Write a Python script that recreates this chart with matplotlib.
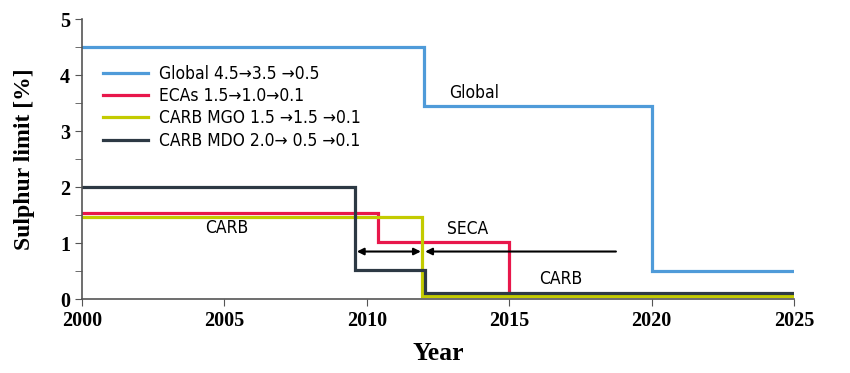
import matplotlib
matplotlib.use("Agg")
import matplotlib.pyplot as plt
from matplotlib.lines import Line2D

# Step series: (years of change, level after each change)
globalYears = [2000, 2012, 2020, 2025]
globalLimits = [4.5, 3.45, 0.5, 0.5]

ecaYears = [2000, 2010.4, 2015, 2025]
ecaLimits = [1.53, 1.02, 0.1, 0.1]

mgoYears = [2000, 2011.95, 2025]
mgoLimits = [1.47, 0.06, 0.06]

mdoYears = [2000, 2009.6, 2012.05, 2025]
mdoLimits = [2.0, 0.52, 0.11, 0.11]

seriesNames = ["Global 4.5\u21923.5 \u21920.5", "ECAs 1.5\u21921.0\u21920.1",
               "CARB MGO 1.5 \u21921.5 \u21920.1", "CARB MDO 2.0\u2192 0.5 \u21920.1"]
seriesColors = ["#4f9bd9", "#e8174b", "#c3cb00", "#2d3944"]

xTicks = [2000, 2005, 2010, 2015, 2020, 2025]
yTicks = [0, 1, 2, 3, 4, 5]

################################################################################

narrow = dict(family="DejaVu Sans", stretch="condensed")
serif = "Liberation Serif"

fig = plt.figure(figsize=(8.5, 3.73), dpi=100)
ax = fig.add_axes([0.0965, 0.198, 0.8375, 0.751])

allSeries = [(globalYears, globalLimits), (ecaYears, ecaLimits),
             (mgoYears, mgoLimits), (mdoYears, mdoLimits)]
for (yrs, lims), col in zip(allSeries, seriesColors):
	ax.step(yrs, lims, where="post", color=col, linewidth=2.3, solid_joinstyle="miter")

# Regulation period arrows
ax.annotate("", xy=(2009.65, 0.85), xytext=(2011.9, 0.85),
            arrowprops=dict(arrowstyle="<|-|>", color="black", lw=1.5, mutation_scale=10, shrinkA=0, shrinkB=0))
ax.annotate("", xy=(2012.05, 0.85), xytext=(2018.75, 0.85),
            arrowprops=dict(arrowstyle="-|>", color="black", lw=1.5, mutation_scale=10, shrinkA=0, shrinkB=0))

ax.text(2012.9, 3.68, "Global", fontsize=12.5, va="center", ha="left", **narrow)
ax.text(2005.1, 1.27, "CARB", fontsize=12.5, va="center", ha="center", **narrow)
ax.text(2013.55, 1.25, "SECA", fontsize=12.5, va="center", ha="center", **narrow)
ax.text(2016.8, 0.36, "CARB", fontsize=12.5, va="center", ha="center", **narrow)

ax.set_xlim(2000, 2025)
ax.set_ylim(0, 5)
ax.set_xticks(xTicks)
ax.set_yticks(yTicks)
ax.set_yticks([0.5, 1.5, 2.5, 3.5, 4.5], minor=True)
ax.tick_params(axis="y", which="both", length=5, direction="out", color="#555555")
ax.tick_params(axis="x", length=5, direction="out", color="#555555")
for lbl in ax.get_xticklabels() + ax.get_yticklabels():
	lbl.set_family(serif)
	lbl.set_fontweight("bold")
	lbl.set_fontsize(14.5)

for side in ["top", "right"]:
	ax.spines[side].set_visible(False)
for side in ["left", "bottom"]:
	ax.spines[side].set_color("#555555")
	ax.spines[side].set_linewidth(1.2)

ax.set_xlabel("Year", family=serif, fontweight="bold", fontsize=18.5, labelpad=8)
ax.set_ylabel("Sulphur limit [%]", family=serif, fontweight="bold", fontsize=17, labelpad=18)

handles = [Line2D([], [], color=c, linewidth=2.3) for c in seriesColors]
ax.legend(handles, seriesNames, loc="upper left", bbox_to_anchor=(0.008, 0.893),
          frameon=False, prop=dict(size=12.5, **narrow),
          handlelength=2.55, handletextpad=0.65, labelspacing=0.25)

fig.savefig("out.png", dpi=100)
